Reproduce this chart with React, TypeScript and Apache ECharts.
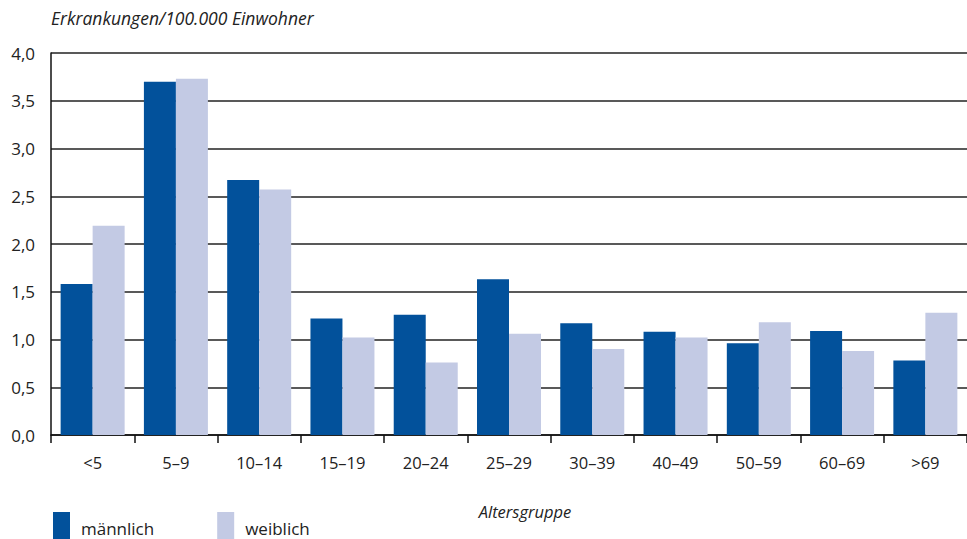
import React, { useEffect, useRef } from "react";
import * as echarts from "echarts";

const categories = ["<5", "5–9", "10–14", "15–19", "20–24", "25–29", "30–39", "40–49", "50–59", "60–69", ">69"];
const maleValues = [1.58, 3.70, 2.67, 1.22, 1.26, 1.63, 1.17, 1.08, 0.96, 1.09, 0.78];
const femaleValues = [2.19, 3.73, 2.57, 1.02, 0.76, 1.06, 0.90, 1.02, 1.18, 0.88, 1.28];
const seriesNames = ["männlich", "weiblich"];
const yTitle = "Erkrankungen/100.000 Einwohner";
const xTitle = "Altersgruppe";

const FONT = "'Open Sans', 'Noto Sans', sans-serif";

export default function App() {
  const ref = useRef<HTMLDivElement>(null);
  useEffect(() => {
    if (!ref.current) return;
    const chart = echarts.init(ref.current, null, { renderer: "svg" });
    chart.setOption({
      animation: false,
      backgroundColor: "#ffffff",
      textStyle: { fontFamily: FONT },
      grid: { left: 51, right: 0, top: 53, bottom: 104, containLabel: false },
      legend: {
        data: seriesNames,
        left: 48,
        top: 507,
        itemWidth: 17,
        itemHeight: 32,
        itemGap: 63,
        icon: "rect",
        selectedMode: false,
        textStyle: { fontFamily: FONT, fontSize: 17, color: "#222", lineHeight: 20, padding: [10, 0, 0, 6] },
      },
      xAxis: {
        type: "category",
        data: categories,
        boundaryGap: true,
        name: xTitle,
        nameLocation: "middle",
        nameGap: 68,
        nameTextStyle: { fontFamily: FONT, fontStyle: "italic", fontSize: 16.5, color: "#222", padding: [0, 0, 0, 32] },
        axisLine: { show: true, lineStyle: { color: "#111", width: 1.5 } },
        axisTick: { show: true, alignWithLabel: false, length: 8, lineStyle: { color: "#111", width: 1.5 } },
        axisLabel: { fontFamily: FONT, fontSize: 16.5, color: "#222", margin: 19 },
        splitLine: { show: false },
      },
      yAxis: {
        type: "value",
        min: 0,
        max: 4,
        interval: 0.5,
        name: yTitle,
        nameLocation: "end",
        nameGap: 26,
        nameTextStyle: { fontFamily: FONT, fontStyle: "italic", fontSize: 17.5, color: "#222", align: "left" },
        axisLine: { show: true, lineStyle: { color: "#111", width: 1.5 } },
        axisTick: { show: false },
        axisLabel: {
          fontFamily: FONT,
          fontSize: 17,
          color: "#222",
          margin: 16,
          formatter: (v: number) => v.toFixed(1).replace(".", ","),
        },
        splitLine: { show: true, lineStyle: { color: "#222", width: 1.5 } },
      },
      series: [
        {
          name: seriesNames[0],
          type: "bar",
          data: maleValues,
          barWidth: 32,
          barGap: "0%",
          itemStyle: { color: "#02519B" },
        },
        {
          name: seriesNames[1],
          type: "bar",
          data: femaleValues,
          barWidth: 32,
          barGap: "0%",
          itemStyle: { color: "#C3CAE4" },
        },
      ],
    });
    return () => chart.dispose();
  }, []);
  return <div ref={ref} style={{ width: 967, height: 539, position: "fixed", left: 0, top: 0 }} />;
}
